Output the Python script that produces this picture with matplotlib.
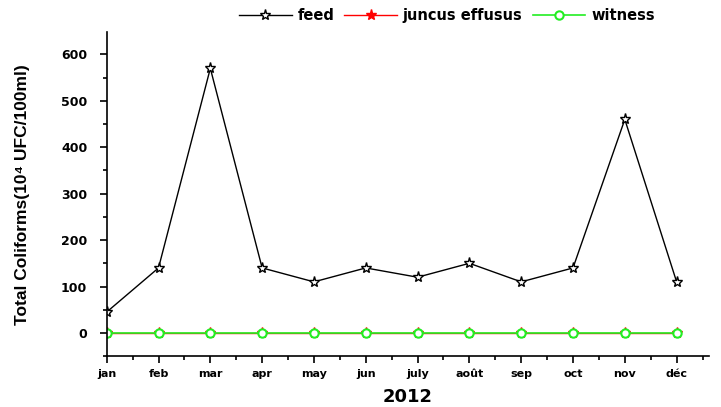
import numpy as np
import matplotlib.pyplot as plt
from matplotlib.ticker import MultipleLocator

# monthly total coliforms, 2012
months = ['jan', 'feb', 'mar', 'apr', 'may', 'jun', 'july', 'août', 'sep', 'oct', 'nov', 'déc']
feed = [45, 140, 570, 140, 110, 140, 120, 150, 110, 140, 460, 110]
juncus = [0, 0, 0, 0, 0, 0, 0, 0, 0, 0, 0, 0]
witness = [0, 0, 0, 0, 0, 0, 0, 0, 0, 0, 0, 0]

plt.rcParams['font.family'] = ['DejaVu Sans']
plt.rcParams['font.weight'] = 'bold'

x = np.arange(1, len(months) + 1)

fig = plt.figure(figsize=(7.21, 4.07), dpi=100)
ax = fig.add_axes([0.148, 0.125, 0.835, 0.796])

ax.plot(x, feed, color='black', lw=1, marker='*', ms=8, mfc='white', mec='black', mew=1, label='feed')
ax.plot(x, juncus, color='red', lw=1, marker='*', ms=8, mfc='red', mec='red', label='juncus effusus')
ax.plot(x, witness, color='#22ee22', lw=1.2, marker='o', ms=6, mfc='white', mec='#22ee22', mew=1.5, label='witness')

ax.set_xlim(1, 12.62)
ax.set_ylim(-50, 648)
ax.set_xticks(x)
ax.set_xticklabels(months)
ax.xaxis.set_minor_locator(MultipleLocator(0.5))
ax.yaxis.set_major_locator(MultipleLocator(100))
ax.yaxis.set_minor_locator(MultipleLocator(50))
ax.tick_params(axis='both', which='major', length=5, width=1.2, labelsize=9)
ax.tick_params(axis='y', which='major', pad=9)
ax.tick_params(axis='x', which='major', pad=4, labelsize=8)
ax.tick_params(axis='both', which='minor', length=3, width=1.2)
ax.spines['top'].set_visible(False)
ax.spines['right'].set_visible(False)
ax.spines['left'].set_linewidth(1.2)
ax.spines['bottom'].set_linewidth(1.2)

ax.set_ylabel('Total Coliforms(10\u2074 UFC/100ml)', fontsize=12.5, fontweight='bold',
              family=['Liberation Sans', 'DejaVu Sans'], labelpad=22)
ax.set_xlabel('2012', fontsize=13, fontweight='bold', labelpad=7)

ax.legend(loc='lower center', bbox_to_anchor=(0.565, 1.0), ncol=3, frameon=False,
          fontsize=10.5, handlelength=3.6, columnspacing=0.7, handletextpad=0.4,
          borderaxespad=0.2)

fig.savefig('out.png', dpi=100)
